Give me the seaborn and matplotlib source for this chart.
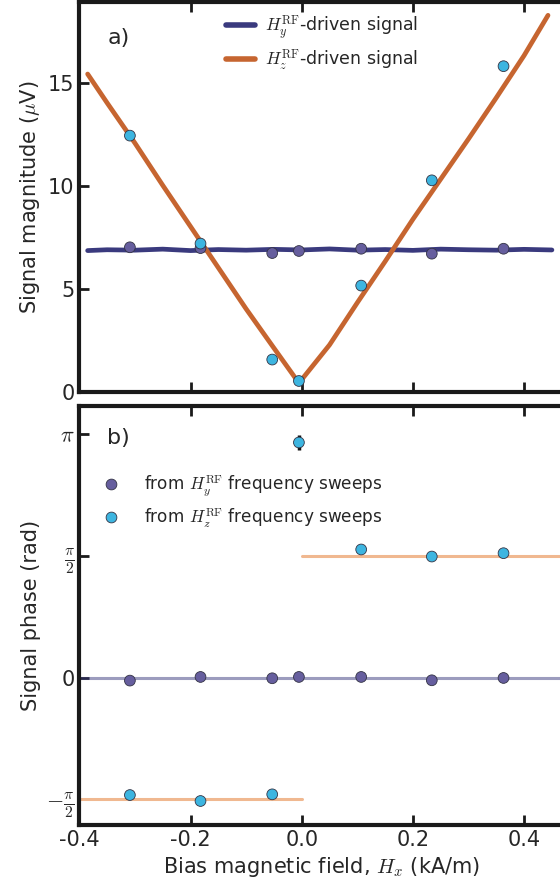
import numpy as np
import pandas as pd
import matplotlib.pyplot as plt
import seaborn as sns

# Data
# continuous magnitude traces (kA/m, uV)
trace_x = [-0.385, -0.35, -0.30, -0.25, -0.20, -0.15, -0.10, -0.05, -0.005,
           0.05, 0.10, 0.15, 0.20, 0.25, 0.30, 0.35, 0.40, 0.443]
trace_z = [15.45, 14.05, 12.10, 10.05, 8.05, 6.05, 4.05, 2.15, 0.45,
           2.30, 4.35, 6.35, 8.40, 10.35, 12.30, 14.30, 16.35, 18.30]
trace_y_x = [-0.385, -0.35, -0.30, -0.25, -0.20, -0.15, -0.10, -0.05, 0.0,
             0.05, 0.10, 0.15, 0.20, 0.25, 0.30, 0.35, 0.40, 0.45]
trace_y = [6.88, 6.92, 6.90, 6.95, 6.88, 6.93, 6.90, 6.94, 6.91,
           6.96, 6.90, 6.93, 6.89, 6.95, 6.92, 6.90, 6.94, 6.91]

# frequency-sweep points
sweep_x = [-0.309, -0.182, -0.053, -0.005, 0.107, 0.234, 0.363]
mag_y = [7.04, 7.00, 6.76, 6.86, 6.97, 6.73, 6.97]
mag_z = [12.46, 7.22, 1.59, 0.55, 5.18, 10.29, 15.83]
phase_y = [-0.039, 0.008, -0.009, 0.008, 0.008, -0.035, -0.005]
phase_z = [-1.515, -1.592, -1.506, 3.032, 1.652, 1.561, 1.604]
phase_z_err = [0.0, 0.0, 0.0, 0.10, 0.0, 0.0, 0.0]

# Colors
c_line_y = "#3a3a7e"
c_line_z = "#c66530"
c_pt_y = "#665e9e"
c_pt_z = "#3db5e0"

sns.set_style("ticks")
plt.rcParams["font.family"] = ["DejaVu Sans"]
plt.rcParams["mathtext.fontset"] = "cm"

fig = plt.figure(figsize=(5.6, 8.86), dpi=100)
W = 0.87 * 556 / 560
ax1 = fig.add_axes([79.3 / 560, 0.5572, W, 0.4411])
ax2 = fig.add_axes([79.3 / 560, 0.0688, W, 0.4730])

df_tr = pd.concat([
    pd.DataFrame({"x": trace_y_x, "v": trace_y, "s": "y"}),
    pd.DataFrame({"x": trace_x, "v": trace_z, "s": "z"}),
])
df_pts = pd.DataFrame({"x": sweep_x * 2, "mag": mag_y + mag_z,
                       "phase": phase_y + phase_z,
                       "s": ["y"] * 7 + ["z"] * 7})

# top panel
sns.lineplot(data=df_tr, x="x", y="v", hue="s", palette=[c_line_y, c_line_z],
             lw=3.4, ax=ax1, legend=False, sort=False)
sns.scatterplot(data=df_pts, x="x", y="mag", hue="s", palette=[c_pt_y, c_pt_z],
                s=60, edgecolor="#333344", linewidth=0.6, ax=ax1, legend=False,
                zorder=3)
ax1.plot([], [], color=c_line_y, lw=4, label=r"$H_y^{\rm RF}$-driven signal")
ax1.plot([], [], color=c_line_z, lw=4, label=r"$H_z^{\rm RF}$-driven signal")
ax1.legend(loc="upper left", bbox_to_anchor=(0.27, 1.01), frameon=False,
           fontsize=12.5, handlelength=1.7, handletextpad=0.6, labelspacing=0.35)
ax1.set_xlim(-0.4, 0.47)
ax1.set_ylim(0, 18.97)
ax1.set_yticks([0, 5, 10, 15])
ax1.set_xticks([-0.4, -0.2, 0.0, 0.2, 0.4])
ax1.set_xticklabels([])
ax1.set_xlabel("")
ax1.set_ylabel(r"Signal magnitude ($\mu$V)", fontsize=15)
ax1.text(0.058, 0.89, "a)", transform=ax1.transAxes, fontsize=16)

# bottom panel
ax2.axhline(0, color=c_line_y, lw=2.2, alpha=0.5, zorder=1)
ax2.plot([-0.4, 0.0], [-np.pi / 2, -np.pi / 2], color="#f0b890", lw=2.2, zorder=1)
ax2.plot([0.0, 0.47], [np.pi / 2, np.pi / 2], color="#f0b890", lw=2.2, zorder=1)
ax2.errorbar(sweep_x, phase_z, yerr=phase_z_err, fmt="none", ecolor="#111111",
             elinewidth=2.5, capsize=0, zorder=2)
sns.scatterplot(data=df_pts, x="x", y="phase", hue="s", palette=[c_pt_y, c_pt_z],
                s=60, edgecolor="#333344", linewidth=0.6, ax=ax2, zorder=3)
h, _ = ax2.get_legend_handles_labels()
ax2.legend(h, [r"from $H_y^{\rm RF}$ frequency sweeps",
               r"from $H_z^{\rm RF}$ frequency sweeps"],
           loc="upper left", bbox_to_anchor=(0.0, 0.875), frameon=False,
           fontsize=12.2, handletextpad=0.9, labelspacing=0.45)
ax2.set_xlim(-0.4, 0.47)
ax2.set_ylim(-1.902, 3.503)
ax2.set_yticks([-np.pi / 2, 0, np.pi / 2, np.pi])
ax2.set_yticklabels([r"$-\frac{\pi}{2}$", "0", r"$\frac{\pi}{2}$", r"$\pi$"])
ax2.set_xticks([-0.4, -0.2, 0.0, 0.2, 0.4])
ax2.set_xticklabels(["-0.4", "-0.2", "0.0", "0.2", "0.4"])
ax2.set_ylabel("Signal phase (rad)", fontsize=15)
ax2.set_xlabel(r"Bias magnetic field, $H_x$ (kA/m)", fontsize=15)
ax2.text(0.058, 0.91, "b)", transform=ax2.transAxes, fontsize=16)

for ax in (ax1, ax2):
    for sp in ax.spines.values():
        sp.set_linewidth(3)
        sp.set_color("#1a1a1a")
    ax.tick_params(direction="in", top=True, bottom=True, left=True,
                   length=7, width=2, color="#1a1a1a", labelsize=15)
for lbl in ax2.get_yticklabels():
    t = lbl.get_text()
    lbl.set_fontsize(15 if t == "0" else 16)

fig.savefig("out.png", dpi=100)
